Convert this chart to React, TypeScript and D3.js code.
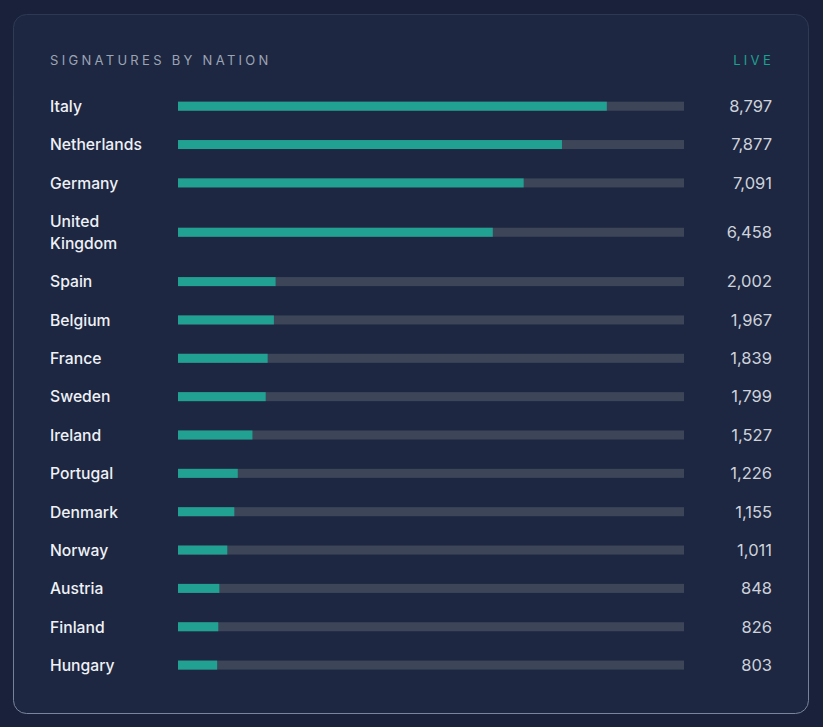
import React, { useEffect, useRef } from 'react';
import * as d3 from 'd3';

const nations = ['Italy', 'Netherlands', 'Germany', 'United Kingdom', 'Spain', 'Belgium', 'France', 'Sweden', 'Ireland', 'Portugal', 'Denmark', 'Norway', 'Austria', 'Finland', 'Hungary'];
const signatures = [8797, 7877, 7091, 6458, 2002, 1967, 1839, 1799, 1527, 1226, 1155, 1011, 848, 826, 803];

const title = 'SIGNATURES BY NATION';
const badge = 'LIVE';

const App = () => {
  const ref = useRef<SVGSVGElement | null>(null);

  useEffect(() => {
    if (!ref.current) return;
    const svg = d3.select(ref.current);
    svg.selectAll('*').remove();

    const width = 823;
    const height = 727;
    const font = 'Inter, "Noto Sans", sans-serif';

    // page + card
    svg.append('rect').attr('width', width).attr('height', height).attr('fill', '#19223a');

    const defs = svg.append('defs');
    const grad = defs.append('linearGradient')
      .attr('id', 'cardBorder')
      .attr('x1', 0).attr('y1', 0).attr('x2', 0).attr('y2', 1);
    grad.append('stop').attr('offset', '0%').attr('stop-color', '#2f3853');
    grad.append('stop').attr('offset', '100%').attr('stop-color', '#7a849c');

    svg.append('rect')
      .attr('x', 13.5).attr('y', 14.5)
      .attr('width', 795).attr('height', 699)
      .attr('rx', 13)
      .attr('fill', '#1e2741')
      .attr('stroke', 'url(#cardBorder)')
      .attr('stroke-width', 1);

    // header
    svg.append('text')
      .attr('x', 50).attr('y', 65)
      .attr('fill', '#9ba4b4')
      .style('font-family', font)
      .style('font-size', '13px')
      .style('letter-spacing', '3.3px')
      .text(title);

    svg.append('text')
      .attr('x', 774).attr('y', 65)
      .attr('text-anchor', 'end')
      .attr('fill', '#1fa091')
      .style('font-family', font)
      .style('font-size', '13px')
      .style('letter-spacing', '3.3px')
      .text(badge);

    const barX0 = 178;
    const barX1 = 684;
    const barH = 9;
    const lineH = 22;
    const rowGap = 16.35;
    const labelWidth = 112;

    const x = d3.scaleLinear()
      .domain([0, (d3.max(signatures) as number) * 1.18])
      .range([barX0, barX1]);

    const fmt = d3.format(',');

    let y = 106.2 - (lineH + rowGap) / 2;
    nations.forEach((name, i) => {
      const g = svg.append('g');
      const label = g.append('text')
        .attr('x', 50)
        .attr('fill', '#eef1f6')
        .style('font-family', font)
        .style('font-size', '15.7px')
        .style('font-weight', 500);

      // wrap label into lines
      const words = name.split(' ');
      const lines: string[] = [];
      let cur: string[] = [];
      const probe = label.append('tspan');
      words.forEach(w => {
        cur.push(w);
        probe.text(cur.join(' '));
        if ((probe.node() as SVGTSpanElement).getComputedTextLength() > labelWidth && cur.length > 1) {
          cur.pop();
          lines.push(cur.join(' '));
          cur = [w];
        }
      });
      lines.push(cur.join(' '));
      probe.remove();

      const rowH = lines.length * lineH + rowGap;
      const cy = y + rowH / 2;
      const firstBase = cy - ((lines.length - 1) * lineH) / 2 + 5.8;
      lines.forEach((ln, k) => {
        label.append('tspan')
          .attr('x', 50)
          .attr('y', firstBase + k * lineH)
          .text(ln);
      });

      g.append('rect')
        .attr('x', barX0).attr('y', cy - barH / 2)
        .attr('width', barX1 - barX0).attr('height', barH)
        .attr('fill', '#3d4659');

      g.append('rect')
        .attr('x', barX0).attr('y', cy - barH / 2)
        .attr('width', x(signatures[i]) - barX0).attr('height', barH)
        .attr('fill', '#21a192');

      g.append('text')
        .attr('x', 772).attr('y', cy + 5.8)
        .attr('text-anchor', 'end')
        .attr('fill', '#cdd2db')
        .style('font-family', font)
        .style('font-size', '16.5px')
        .text(fmt(signatures[i]));

      y += rowH;
    });
  }, []);

  return (
    <svg
      ref={ref}
      width={823}
      height={727}
      style={{ position: 'fixed', top: 0, left: 0, display: 'block' }}
    />
  );
};

export default App;
